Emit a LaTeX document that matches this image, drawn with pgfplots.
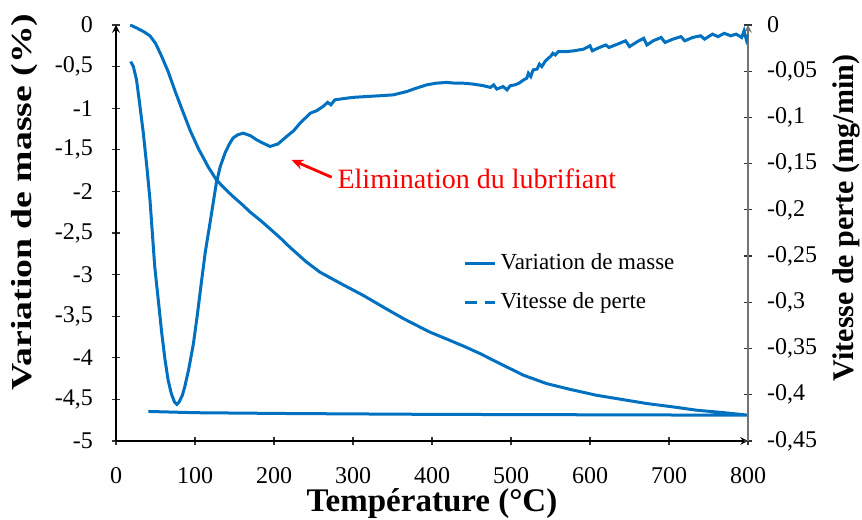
\documentclass[border=0pt]{standalone}
\usepackage{pgfplots}
\pgfplotsset{compat=1.18}
\usepackage{fontspec}
\setmainfont{Liberation Serif}
\newfontfamily\widefont{Liberation Serif}[FakeStretch=1.3]
\usetikzlibrary{arrows.meta}
\definecolor{tgablue}{RGB}{0,112,192}

\pgfplotsset{
  tga/.style={
    scale only axis, width=316pt, height=208pt,
    xmin=0, xmax=800,
    major tick length=4pt,
    tick style={black!80, line width=0.6pt},
    axis line style={-, line width=0.7pt},
    tick label style={font=\fontsize{12}{14}\selectfont},
  }
}

\begin{document}
\begin{tikzpicture}
\begin{axis}[tga, name=main,
  axis x line=bottom, axis y line=left,
  ymin=-5, ymax=0,
  xtick={0,100,200,300,400,500,600,700,800},
  xticklabels={0,100,200,300,400,500,600,700,800},
  ytick={-5,-4.5,-4,-3.5,-3,-2.5,-2,-1.5,-1,-0.5,0},
  yticklabels={-5,{-4,5},-4,{-3,5},-3,{-2,5},-2,{-1,5},-1,{-0,5},0},
  axis line style={black},
  xticklabel style={yshift=-10pt, inner sep=1pt},
  yticklabel style={xshift=-6pt},
  xlabel={Température (°C)},
  ylabel={Variation de masse (\%)},
  xlabel style={font=\fontsize{16.5}{18}\selectfont\bfseries, inner sep=0pt,
    at={(axis description cs:0.5,0)}, anchor=base, yshift=-35.5pt},
  ylabel style={font=\fontsize{14.5}{16}\selectfont\widefont\bfseries, inner sep=0pt,
    at={(axis description cs:0,0.575)}, anchor=center, yshift=45.5pt},
  legend style={draw=none, fill=none, at={(rel axis cs:0.54,0.47)}, anchor=north west,
    font=\fontsize{11.5}{13}\selectfont, row sep=6pt},
  legend cell align=left,
  legend image code/.code={\draw[#1] (0pt,0pt) -- (15pt,0pt);},
]
\addplot[tgablue, line width=1.5pt] coordinates {
(18,0) (27,-0.04) (35,-0.08) (43,-0.13) (50,-0.22) (57,-0.36) (66,-0.56) (75,-0.8)
(85,-1.05) (94,-1.27) (104,-1.48) (117,-1.71) (127,-1.86) (138,-1.97) (148,-2.06)
(160,-2.16) (170,-2.25) (183,-2.35) (195,-2.45) (208,-2.56) (220,-2.67) (240,-2.84)
(258,-2.97) (285,-3.11) (313,-3.25) (340,-3.40) (364,-3.53) (397,-3.69) (420,-3.78)
(440,-3.86) (461,-3.95) (486,-4.07) (516,-4.21) (545,-4.31) (575,-4.38) (608,-4.45)
(640,-4.50) (672,-4.55) (705,-4.59) (735,-4.63) (770,-4.66) (800,-4.69)
(600,-4.685) (400,-4.68) (220,-4.67) (100,-4.66) (41,-4.645)
};
\addlegendentry{Variation de masse}
\addlegendimage{tgablue, line width=1.5pt, dash pattern=on 6pt off 4pt}
\addlegendentry{Vitesse de perte}

\draw[red, line width=1.4pt, -{Stealth[length=6pt,width=5pt]}] (axis cs:273,-1.83) -- (axis cs:222,-1.62);
\node[red, anchor=base west, font=\fontsize{14}{16}\selectfont, inner sep=0pt] at (axis cs:280,-1.96) {Elimination du lubrifiant};
\end{axis}

\begin{axis}[tga,
  axis x line=none, axis y line=right,
  ymin=-0.45, ymax=0,
  ytick={-0.45,-0.4,-0.35,-0.3,-0.25,-0.2,-0.15,-0.1,-0.05,0},
  yticklabels={{-0,45},{-0,4},{-0,35},{-0,3},{-0,25},{-0,2},{-0,15},{-0,1},{-0,05},0},
  axis line style={black!55},
  yticklabel style={xshift=4pt},
  ylabel={Vitesse de perte (mg/min)},
  ylabel style={font=\fontsize{15}{17}\selectfont\bfseries, inner sep=0pt,
    at={(axis description cs:1,0.536)}, anchor=center, yshift=-49pt},
]
\addplot[tgablue, line width=1.5pt] coordinates {
(18.6,-0.0396) (22,-0.045) (26,-0.0594) (30,-0.0855) (34.6,-0.117) (39,-0.153)
(43,-0.189) (49,-0.261) (54,-0.3015) (58,-0.3339) (62,-0.3618) (66,-0.3843)
(70,-0.3987) (74,-0.4077) (77,-0.4104) (80,-0.4077) (84,-0.4005) (87,-0.3915)
(92,-0.3726) (98,-0.3447) (103,-0.3132) (108,-0.279) (113,-0.2457) (119,-0.2142)
(127,-0.171) (132,-0.153) (138,-0.1386) (143,-0.1296) (148,-0.1224) (154,-0.1188)
(161,-0.117) (170,-0.1197) (178,-0.1242) (186,-0.1278) (195,-0.1314) (205,-0.1287)
(216,-0.1206) (225,-0.1143) (233,-0.1062) (246,-0.0954) (254,-0.0927) (262,-0.0882)
(268,-0.0837) (272,-0.0864) (277,-0.081) (284,-0.0801) (300,-0.0783) (317,-0.0774)
(335,-0.0765) (351,-0.0756) (368,-0.072) (380,-0.0684) (393,-0.0648) (405,-0.063)
(418,-0.0621) (430,-0.063) (440,-0.063) (452,-0.0639) (465,-0.0657) (474,-0.0675)
(478,-0.0648) (482,-0.0693) (490,-0.0666) (495,-0.0702) (499,-0.0657) (505,-0.0648)
(510,-0.063) (516,-0.0594) (520,-0.0576) (522,-0.0522) (525,-0.0558) (528,-0.0486)
(533,-0.0477) (536,-0.0423) (539,-0.045) (543,-0.0396) (547,-0.036) (550,-0.0342)
(553,-0.0306) (556,-0.0324) (560,-0.0288) (570,-0.0288) (580,-0.0279) (592,-0.0261)
(600,-0.0225) (603,-0.0279) (612,-0.0243) (620,-0.0216) (624,-0.0243) (635,-0.0207)
(645,-0.0171) (650,-0.0234) (660,-0.018) (668,-0.0144) (672,-0.0216) (680,-0.0171)
(690,-0.0135) (695,-0.0189) (705,-0.0153) (715,-0.0126) (720,-0.0171) (730,-0.0135)
(740,-0.0117) (745,-0.0153) (755,-0.0099) (762,-0.0126) (770,-0.009) (778,-0.0117)
(785,-0.0099) (792,-0.0135) (795,-0.0063) (798,-0.0162) (800,-0.0108)
};
\end{axis}
\pgfresetboundingbox
\path ([shift={(-58pt,-39.5pt)}]main.south west) rectangle ([shift={(57pt,12.5pt)}]main.north east);
\end{tikzpicture}
\end{document}
